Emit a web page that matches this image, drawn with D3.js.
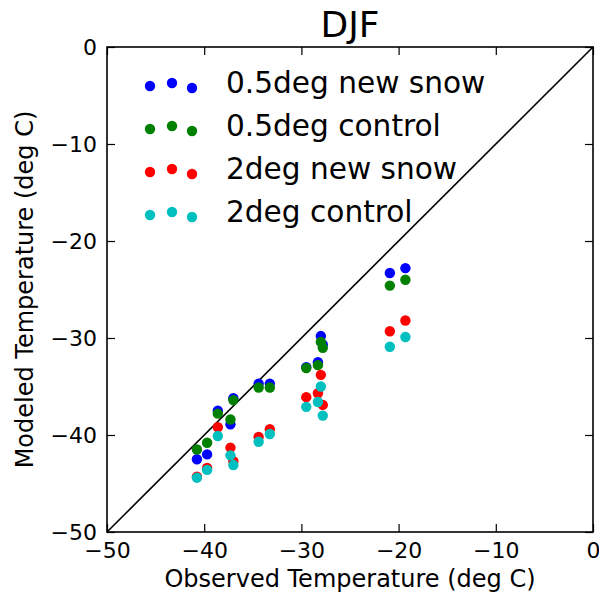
<!DOCTYPE html>
<html>
<head>
<meta charset="utf-8">
<script src="https://d3js.org/d3.v7.min.js"></script>
<style>
  body { margin: 0; background: #fff; }
  text { font-family: "DejaVu Sans", sans-serif; }
</style>
</head>
<body>
<div id="chart"></div>
<script>
  // observed station temperatures (deg C)
  let observed = [-40.75, -39.7, -38.6, -37.3, -37.0, -34.4, -33.25, -29.5, -28.3, -28.0, -27.8, -20.9, -19.3];

  // modeled temperatures for each run
  let halfNewSnow  = [-42.5, -42.0, -37.5, -38.9, -36.2, -34.7, -34.7, -33.0, -32.5, -29.8, -30.7, -23.3, -22.8];
  let halfControl  = [-41.5, -40.8, -37.8, -38.4, -36.4, -35.1, -35.1, -33.1, -32.8, -30.4, -31.0, -24.6, -24.0];
  let twoNewSnow   = [-44.3, -43.4, -39.2, -41.3, -42.7, -40.2, -39.4, -36.1, -35.7, -33.8, -36.9, -29.3, -28.2];
  let twoControl   = [-44.4, -43.6, -40.1, -42.1, -43.1, -40.7, -39.9, -37.1, -36.6, -35.0, -38.0, -30.9, -29.9];

  let seriesNames = ["0.5deg new snow", "0.5deg control", "2deg new snow", "2deg control"];
  let seriesColors = ["#0000ff", "#008000", "#ff0000", "#00bfbf"];
  let seriesValues = [halfNewSnow, halfControl, twoNewSnow, twoControl];

  let ticks = [-50, -40, -30, -20, -10, 0];

  let width = 599, height = 594;
  let margin = {left: 107, top: 47, right: 6, bottom: 62};
  let innerW = width - margin.left - margin.right;
  let innerH = height - margin.top - margin.bottom;

  let svg = d3.select("#chart").append("svg")
    .attr("width", width)
    .attr("height", height);

  let g = svg.append("g")
    .attr("transform", "translate(" + margin.left + "," + margin.top + ")");

  let x = d3.scaleLinear().domain([-50, 0]).range([0, innerW]);
  let y = d3.scaleLinear().domain([-50, 0]).range([innerH, 0]);

  // 1:1 line
  g.append("line")
    .attr("x1", x(-50)).attr("y1", y(-50))
    .attr("x2", x(0)).attr("y2", y(0))
    .attr("stroke", "#000")
    .attr("stroke-width", 1.6);

  // points
  seriesValues.forEach(function(vals, i) {
    g.append("g")
      .selectAll("circle")
      .data(vals)
      .enter()
      .append("circle")
        .attr("cx", (d, j) => x(observed[j]))
        .attr("cy", d => y(d))
        .attr("r", 5.2)
        .style("fill", seriesColors[i]);
  });

  // axes, ticks pointing inwards
  function styleAxis(sel) {
    sel.select(".domain").remove();
    sel.selectAll("line").attr("stroke", "#000").attr("stroke-width", 1.2);
    sel.selectAll("text")
      .style("font-size", "22px")
      .style("font-family", "DejaVu Sans")
      .attr("fill", "#000");
  }
  let fmt = d => d < 0 ? "\u2212" + Math.abs(d) : d;

  g.append("g").attr("transform", "translate(0," + innerH + ")")
    .call(d3.axisBottom(x).tickValues(ticks).tickFormat(fmt).tickSizeInner(-8).tickSizeOuter(0).tickPadding(10))
    .call(styleAxis);
  g.append("g")
    .call(d3.axisLeft(y).tickValues(ticks).tickFormat(fmt).tickSizeInner(-8).tickSizeOuter(0).tickPadding(10))
    .call(styleAxis);
  g.append("g")
    .call(d3.axisTop(x).tickValues(ticks).tickFormat("").tickSizeInner(-8).tickSizeOuter(0))
    .call(styleAxis);
  g.append("g").attr("transform", "translate(" + innerW + ",0)")
    .call(d3.axisRight(y).tickValues(ticks).tickFormat("").tickSizeInner(-8).tickSizeOuter(0))
    .call(styleAxis);

  // frame
  g.append("rect")
    .attr("width", innerW).attr("height", innerH)
    .style("fill", "none")
    .style("stroke", "#000")
    .style("stroke-width", 1.6);

  // title and labels
  svg.append("text")
    .attr("x", margin.left + innerW / 2).attr("y", 37)
    .attr("text-anchor", "middle")
    .style("font-size", "36px")
    .text("DJF");

  svg.append("text")
    .attr("x", margin.left + innerW / 2).attr("y", 587)
    .attr("text-anchor", "middle")
    .style("font-size", "24px")
    .text("Observed Temperature (deg C)");

  svg.append("text")
    .attr("transform", "translate(33," + (margin.top + innerH / 2) + ") rotate(-90)")
    .attr("text-anchor", "middle")
    .style("font-size", "24px")
    .text("Modeled Temperature (deg C)");

  // panel label, cut by the bottom edge as in the original figure
  svg.append("text")
    .attr("x", 322).attr("y", 613)
    .attr("text-anchor", "middle")
    .style("font-size", "24px")
    .text("(b)");

  // legend (three scatter points per entry)
  let legendDx = [43, 65, 85];
  let legendDy = [0, -3, 2];
  let legend = svg.append("g").attr("transform", "translate(107,86)");
  seriesNames.forEach(function(name, i) {
    let row = legend.append("g").attr("transform", "translate(0," + (i * 43) + ")");
    legendDx.forEach(function(dx, k) {
      row.append("circle")
        .attr("cx", dx).attr("cy", legendDy[k])
        .attr("r", 5.2)
        .style("fill", seriesColors[i]);
    });
    row.append("text")
      .attr("x", 119).attr("y", 7)
      .style("font-size", "29.6px")
      .text(name);
  });
</script>
</body>
</html>
